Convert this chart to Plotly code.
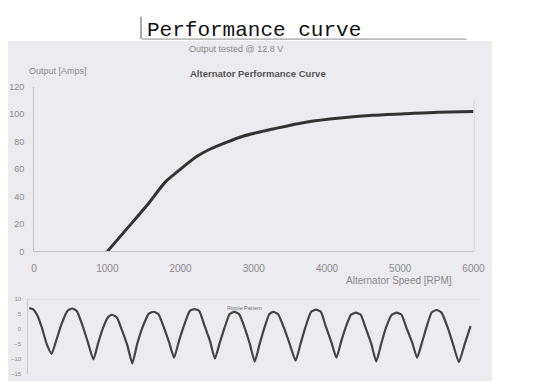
import plotly.graph_objects as go

W, H = 536, 386

# ---- data ----
speed_rpm = [1000, 1340, 1570, 1790, 2000, 2230, 2400, 2850, 3300, 3730, 4180, 4620, 5060, 5510, 6000]
output_amps = [0, 21, 35.5, 50.5, 60, 69.5, 74.5, 84, 89.7, 94.4, 97.3, 99.2, 100.3, 101.5, 102]

x_ticks = [0, 1000, 2000, 3000, 4000, 5000, 6000]
y_ticks = [0, 20, 40, 60, 80, 100, 120]

ripple_t = [27, 31, 35, 40, 45, 50, 55, 60, 66, 71, 76, 81, 87, 93, 98, 103, 108, 112, 117, 122,
            128, 133, 138, 144, 150, 155, 160, 165, 171, 176, 181, 186, 192, 197, 202, 207, 213, 218,
            223, 228, 233, 238, 243, 248, 254, 259, 264, 269, 274, 278, 283, 289, 295, 301, 306, 311,
            317, 322, 327, 332, 338, 343, 348, 353, 358, 363, 368, 373, 379, 384, 389, 394, 400, 405,
            410, 415, 421, 426, 431, 436, 441, 446, 451, 457, 463, 469, 475, 481]
ripple_v = [7.0, 6.6, 4.8, 0.5, -5.0, -8.2, -3.5, 1.5, 6.0, 6.9, 6.0, 2.0, -4.0, -10.1, -4.5, 0.5, 4.0, 4.8, 4.0, 0.0,
            -5.5, -11.4, -5.0, 1.0, 5.2, 5.8, 5.0, 1.0, -4.5, -9.5, -4.0, 1.0, 6.0, 6.7, 6.0, 1.5, -4.0, -9.8,
            -4.5, 0.5, 5.0, 5.8, 5.0, 1.0, -5.0, -10.8, -5.0, 0.5, 5.0, 5.8, 5.0, 0.5, -5.0, -10.5, -5.0, 0.5,
            5.8, 6.5, 5.8, 1.0, -4.5, -9.5, -4.0, 1.0, 4.8, 5.5, 4.8, 0.5, -5.0, -10.8, -5.0, 0.5, 4.8, 5.5,
            4.8, 0.5, -4.5, -9.5, -4.5, 1.0, 5.6, 6.4, 5.6, 1.0, -5.0, -11.0, -5.0, 1.0]
ripple_ticks = [10, 5, 0, -5, -10, -15]


def px(x):
    return x / W


def py(y):
    return 1 - y / H


fig = go.Figure()

fig.add_trace(go.Scatter(x=speed_rpm, y=output_amps, mode="lines",
                         line=dict(color="#333333", width=3, shape="spline", smoothing=0.6),
                         xaxis="x", yaxis="y", hoverinfo="skip"))
fig.add_trace(go.Scatter(x=ripple_t, y=ripple_v, mode="lines",
                         line=dict(color="#444444", width=2.2, shape="spline", smoothing=0.5),
                         xaxis="x2", yaxis="y2", hoverinfo="skip"))

tick_font = dict(family="Liberation Sans, Arial", size=9, color="#8c8c8c")

fig.update_layout(
    autosize=True,
    margin=dict(l=0, r=0, t=0, b=0),
    paper_bgcolor="white",
    plot_bgcolor="rgba(0,0,0,0)",
    showlegend=False,
    xaxis=dict(domain=[px(32), px(484)], range=[0, 6000], tickvals=x_ticks,
               ticktext=[str(v) for v in x_ticks], showgrid=False, zeroline=False,
               showline=True, linecolor="#c4c4c8", linewidth=1, ticks="",
               tickfont=dict(family="Liberation Sans, Arial", size=10, color="#8c8c8c"),
               ticklabelstandoff=8, anchor="y"),
    yaxis=dict(domain=[py(253), py(84)], range=[0, 120], tickvals=y_ticks,
               showgrid=False, zeroline=False, showline=True, linecolor="#c4c4c8",
               linewidth=1, ticks="", tickfont=tick_font, ticklabelstandoff=7, anchor="x"),
    xaxis2=dict(domain=[px(26), px(490)], range=[26, 490], showticklabels=False,
                showgrid=False, zeroline=False, showline=False, anchor="y2"),
    yaxis2=dict(domain=[py(379), py(302)], range=[-15, 10], tickvals=ripple_ticks,
                showgrid=False, zeroline=False, showline=True, linecolor="#c8c8cc",
                linewidth=1, ticks="",
                tickfont=dict(family="Liberation Sans, Arial", size=6, color="#8c8c8c"),
                ticklabelstandoff=5, anchor="x2"),
)

shapes = [
    # paper photograph background
    dict(type="rect", xref="paper", yref="paper", x0=px(5), x1=px(503), y0=0, y1=py(37),
         fillcolor="#ebebf0", line=dict(width=0), layer="below"),
    # document cursor and underline
    dict(type="line", xref="paper", yref="paper", x0=px(142), x1=px(142), y0=py(12), y1=py(35),
         line=dict(color="#555555", width=1)),
    dict(type="line", xref="paper", yref="paper", x0=px(143), x1=px(477), y0=py(35), y1=py(35),
         line=dict(color="#8a8a8a", width=1)),
    # faint right frame of main plot
    dict(type="line", xref="paper", yref="paper", x0=px(485), x1=px(485), y0=py(253), y1=py(97),
         line=dict(color="#dcdce0", width=1)),
    # faint top line of ripple plot
    dict(type="line", xref="paper", yref="paper", x0=px(26), x1=px(490), y0=py(302), y1=py(302),
         line=dict(color="#dcdce0", width=1)),
]
fig.update_layout(shapes=shapes)

ann = [
    dict(text="Performance curve", x=px(258), y=py(26),
         font=dict(family="Liberation Mono, DejaVu Sans Mono", size=21, color="#111111")),
    dict(text="Output tested @ 12.8 V", x=px(240), y=py(45),
         font=dict(family="Liberation Sans, Arial", size=9, color="#8a8a8a")),
    dict(text="Output [Amps]", x=px(57), y=py(68),
         font=dict(family="Liberation Sans, Arial", size=9, color="#8a8a8a")),
    dict(text="<b>Alternator Performance Curve</b>", x=px(262), y=py(70),
         font=dict(family="Liberation Sans, Arial", size=9.5, color="#555555")),
    dict(text="Alternator Speed [RPM]", x=px(407), y=py(283),
         font=dict(family="Liberation Sans, Arial", size=10, color="#8a8a8a")),
    dict(text="Ripple Pattern", x=px(248), y=py(311),
         font=dict(family="Liberation Sans, Arial", size=5.5, color="#777777")),
]
for a in ann:
    a.update(xref="paper", yref="paper", showarrow=False, xanchor="center", yanchor="middle")
fig.update_layout(annotations=ann)

post = (
    "document.documentElement.style.height='100%';"
    "document.documentElement.style.margin='0px';"
    "document.body.style.height='100%';"
    "document.body.style.margin='0px';"
    "document.body.style.overflow='hidden';"
    "var gd=document.getElementById('{plot_id}');"
    "gd.style.width='100vw';gd.style.height='100vh';"
    "if(gd.parentElement){gd.parentElement.style.width='100vw';gd.parentElement.style.height='100vh';}"
    "Plotly.Plots.resize(gd);"
)

fig.write_html("out.html", config={"displayModeBar": False, "responsive": True},
               default_width="100%", default_height="100%", post_script=post)
